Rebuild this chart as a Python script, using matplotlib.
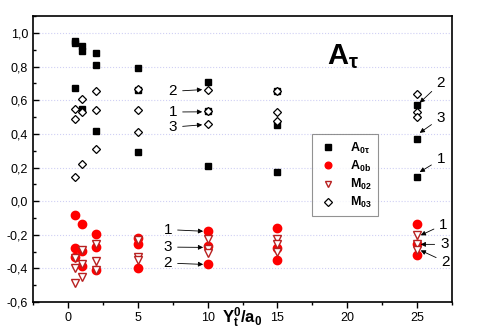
import numpy as np
import matplotlib
matplotlib.use("Agg")
import matplotlib.pyplot as plt
from matplotlib.ticker import MultipleLocator, FuncFormatter

plt.rcParams['font.family'] = ['Liberation Sans', 'DejaVu Sans']
plt.rcParams['mathtext.fontset'] = 'custom'
plt.rcParams['mathtext.rm'] = 'Liberation Sans'
plt.rcParams['mathtext.it'] = 'Liberation Sans:italic'
plt.rcParams['mathtext.bf'] = 'Liberation Sans:bold'

# distances Y0t/a0, three values (cases 1,2,3) per distance
x_vals = [0.5, 1, 2, 5, 10, 15, 25]

A0tau = [[0.95, 0.94, 0.67],
         [0.92, 0.89, 0.55],
         [0.88, 0.81, 0.42],
         [0.79, 0.29, 0.66],
         [0.706, 0.21, 0.533],
         [0.455, 0.175, 0.653],
         [0.574, 0.367, 0.141]]

A0b = [[-0.085, -0.279, -0.335],
       [-0.137, -0.388, -0.295],
       [-0.195, -0.27, -0.41],
       [-0.22, -0.255, -0.40],
       [-0.178, -0.267, -0.376],
       [-0.159, -0.276, -0.352],
       [-0.137, -0.318, -0.255]]

M02 = [[-0.34, -0.40, -0.484],
       [-0.29, -0.376, -0.45],
       [-0.257, -0.356, -0.408],
       [-0.229, -0.333, -0.35],
       [-0.223, -0.285, -0.31],
       [-0.223, -0.253, -0.30],
       [-0.203, -0.253, -0.29]]

M03 = [[0.545, 0.49, 0.145],
       [0.61, 0.53, 0.22],
       [0.657, 0.54, 0.31],
       [0.665, 0.54, 0.41],
       [0.663, 0.533, 0.46],
       [0.653, 0.529, 0.479],
       [0.637, 0.53, 0.50]]

# case labels with (arrow tip, text position)
notes = [("2", (9.61, 0.663), (7.51, 0.653)),
         ("1", (9.61, 0.531), (7.51, 0.530)),
         ("3", (9.61, 0.454), (7.51, 0.440)),
         ("1", (9.68, -0.179), (7.15, -0.169)),
         ("3", (9.68, -0.275), (7.15, -0.273)),
         ("2", (9.68, -0.376), (7.15, -0.368)),
         ("2", (25.18, 0.585), (26.69, 0.703)),
         ("3", (25.18, 0.406), (26.69, 0.494)),
         ("1", (25.18, 0.173), (26.69, 0.249)),
         ("1", (25.25, -0.203), (26.88, -0.139)),
         ("3", (25.25, -0.257), (26.95, -0.257)),
         ("2", (25.25, -0.293), (27.04, -0.362))]


def flat(vals):
    xs = np.repeat(x_vals, 3)
    return xs, np.array(vals).ravel()


fig = plt.figure(figsize=(4.82, 3.36), dpi=100)
ax = fig.add_axes([0.0685, 0.101, 0.8695, 0.851])

xs, ys = flat(A0tau)
ax.plot(xs, ys, ls='none', marker='s', ms=5, color='black', mec='black', label=r'$\mathbf{A_{0\tau}}$', zorder=3)
xs, ys = flat(A0b)
ax.plot(xs, ys, ls='none', marker='o', ms=6, color='#ff0000', mec='#ff0000', label=r'$\mathbf{A_{0b}}$', zorder=3)
xs, ys = flat(M02)
ax.plot(xs, ys, ls='none', marker='v', ms=6, mfc='white', mec='#b82020', mew=1.0, label=r'$\mathbf{M_{02}}$', zorder=4)
xs, ys = flat(M03)
ax.plot(xs, ys, ls='none', marker='D', ms=4.5, mfc='white', mec='black', mew=0.9, label=r'$\mathbf{M_{03}}$', zorder=4)

for lab, tip, txt in notes:
    ax.annotate(lab, xy=tip, xytext=txt, ha='center', va='center', fontsize=11,
                arrowprops=dict(arrowstyle='-|>', color='black', lw=0.6,
                                mutation_scale=7, shrinkA=2, shrinkB=0), zorder=5)

ax.text(19.7, 0.86, r'$\mathbf{A}_{\mathbf{\tau}}$', fontsize=21, ha='center', va='center')

ax.set_xlim(-2.5, 27.5)
ax.set_ylim(-0.6, 1.1)
ax.xaxis.set_major_locator(MultipleLocator(5))
ax.xaxis.set_minor_locator(MultipleLocator(2.5))
ax.yaxis.set_major_locator(MultipleLocator(0.2))
ax.yaxis.set_minor_locator(MultipleLocator(0.1))
ax.yaxis.set_major_formatter(FuncFormatter(lambda v, p: f"{v:.1f}".replace('.', ',').replace('-0,0', '0,0')))
ax.tick_params(axis='x', which='major', direction='out', length=4, width=1, labelsize=9)
ax.tick_params(axis='x', which='minor', direction='out', length=2.5, width=1)
ax.tick_params(axis='y', which='major', direction='in', length=4, width=1, labelsize=9)
ax.tick_params(axis='y', which='minor', direction='in', length=2.5, width=1)
ax.grid(axis='y', which='major', color='#d0d0f4', ls=':', lw=0.8)
ax.set_axisbelow(True)
for s in ax.spines.values():
    s.set_linewidth(1.2)

ax.text(0.5, -0.055, r'$\mathbf{Y^{0}_{t}/a_{0}}$', transform=ax.transAxes,
        ha='center', va='center', fontsize=12)

leg = ax.legend(loc='upper left', bbox_to_anchor=(0.666, 0.587), fontsize=9,
                frameon=True, fancybox=False, edgecolor='#777777', borderpad=0.5,
                borderaxespad=0, handletextpad=0.9, labelspacing=0.25,
                handlelength=1.6, markerscale=0.8)
leg.get_frame().set_linewidth(0.8)

fig.savefig('out.png', dpi=100)
